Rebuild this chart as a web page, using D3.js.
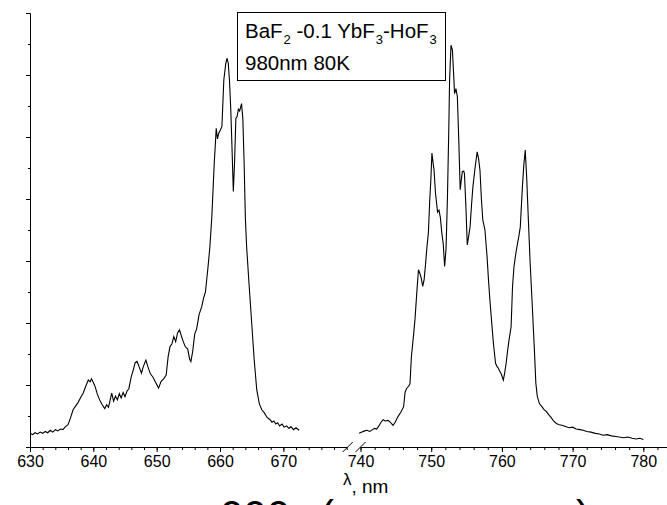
<!DOCTYPE html>
<html>
<head>
<meta charset="utf-8">
<script src="https://cdn.jsdelivr.net/npm/d3@7"></script>
<style>
  body { margin: 0; background: #fff; }
  svg { display: block; font-family: "Liberation Sans", Arial, sans-serif; }
</style>
</head>
<body>
<div id="chart"></div>
<script>
// Spectrum, left part (630-680 nm)
const leftNm = [630.0,630.4,630.8,631.2,631.6,632.0,632.4,632.8,633.2,633.6,634.0,634.4,634.8,635.2,635.6,636.0,636.4,636.8,637.2,637.6,638.0,638.4,638.8,639.2,639.5,639.7,640.0,640.3,640.6,641.0,641.4,641.8,642.1,642.4,642.7,642.9,643.2,643.5,643.8,644.1,644.4,644.7,645.0,645.3,645.6,646.0,646.3,646.6,646.9,647.2,647.6,647.9,648.3,648.6,649.0,649.4,649.8,650.3,650.7,651.1,651.5,651.8,652.1,652.4,652.7,653.0,653.3,653.6,653.9,654.2,654.5,654.9,655.2,655.4,655.7,656.0,656.3,656.7,657.1,657.4,657.7,658.1,658.4,658.7,658.9,659.1,659.3,659.4,659.6,659.8,660.0,660.3,660.6,660.9,661.1,661.3,661.5,661.7,661.9,662.1,662.3,662.5,662.7,662.9,663.1,663.4,663.6,663.8,664.0,664.2,664.6,665.0,665.4,665.8,666.2,666.6,667.0,667.4,667.9,668.2,668.5,668.8,669.1,669.4,669.8,670.1,670.5,670.9,671.2,671.6,672.0,672.5];
const leftI = [0.22,0.20,0.23,0.21,0.24,0.22,0.25,0.23,0.27,0.24,0.28,0.26,0.29,0.28,0.33,0.36,0.47,0.60,0.66,0.72,0.80,0.87,0.98,1.08,1.05,1.10,1.04,0.97,0.86,0.76,0.68,0.62,0.68,0.64,0.78,0.87,0.74,0.82,0.76,0.86,0.79,0.88,0.81,0.90,0.94,1.14,1.24,1.36,1.38,1.30,1.19,1.30,1.40,1.30,1.18,1.13,1.05,0.95,1.06,1.10,1.16,1.45,1.62,1.66,1.78,1.70,1.84,1.89,1.79,1.70,1.62,1.58,1.42,1.38,1.55,1.82,1.90,2.14,2.26,2.40,2.50,2.90,3.23,3.70,4.15,4.60,4.95,5.14,4.97,5.06,5.10,5.17,5.92,6.18,6.27,6.19,5.90,5.44,4.80,4.12,4.60,5.30,5.33,5.45,5.42,5.54,5.30,4.60,3.70,3.23,2.60,2.00,1.40,0.92,0.70,0.60,0.55,0.48,0.44,0.40,0.42,0.37,0.39,0.34,0.37,0.32,0.34,0.30,0.33,0.28,0.31,0.27];

// Spectrum, right part (740-784 nm)
const rightNm = [739.8,740.2,740.6,740.9,741.3,741.7,742.0,742.3,742.6,742.9,743.2,743.5,743.9,744.2,744.6,744.9,745.3,745.7,746.1,746.3,746.5,746.8,747.0,747.2,747.5,747.7,748.0,748.2,748.4,748.6,748.8,749.0,749.2,749.4,749.6,749.8,749.95,750.1,750.3,750.4,750.6,750.9,751.1,751.3,751.5,751.7,751.9,752.1,752.3,752.5,752.6,752.8,753.0,753.2,753.3,753.5,753.7,753.9,754.1,754.25,754.4,754.6,754.7,754.9,755.1,755.3,755.5,755.7,755.9,756.2,756.5,756.7,756.9,757.1,757.3,757.6,757.9,758.1,758.3,758.6,758.8,759.1,759.3,759.5,759.7,759.9,760.2,760.4,760.6,760.8,761.0,761.3,761.5,761.7,761.9,762.2,762.4,762.6,762.9,763.1,763.3,763.5,763.8,764.0,764.3,764.6,764.8,765.0,765.3,765.6,766.0,766.3,766.7,767.0,767.3,767.7,768.1,768.5,769.0,769.5,770.0,770.5,771.0,771.5,772.0,772.6,773.2,773.8,774.3,774.9,775.5,776.1,776.6,777.2,777.8,778.4,779.0,779.5,780.0];
const rightI = [0.22,0.24,0.26,0.27,0.25,0.28,0.30,0.29,0.34,0.40,0.44,0.42,0.43,0.40,0.35,0.40,0.49,0.56,0.65,0.88,0.94,0.98,1.02,1.46,1.80,2.05,2.55,2.86,2.80,2.72,2.59,2.70,2.95,3.23,3.45,4.00,4.31,4.74,4.55,4.47,4.10,3.79,3.82,3.70,3.45,3.28,2.91,3.20,4.04,5.20,5.92,6.48,6.40,5.95,5.70,5.78,5.65,4.95,4.15,4.30,4.44,4.45,4.41,3.90,3.26,3.40,3.55,3.90,4.20,4.50,4.76,4.65,4.46,4.00,3.66,3.50,3.07,2.70,2.37,1.95,1.67,1.35,1.30,1.27,1.22,1.18,1.08,1.20,1.35,1.55,1.72,1.94,2.58,2.90,3.07,3.28,3.40,3.55,4.20,4.55,4.79,4.36,3.50,2.95,2.27,1.55,1.03,0.82,0.70,0.66,0.60,0.57,0.51,0.47,0.42,0.38,0.36,0.35,0.33,0.31,0.32,0.29,0.28,0.27,0.25,0.24,0.22,0.21,0.19,0.20,0.18,0.17,0.16,0.15,0.16,0.14,0.13,0.14,0.12];

const leftTicks = [630, 640, 650, 660, 670];
const rightTicks = [740, 750, 760, 770, 780];
const legendLines = ["BaF", "980nm 80K"];

const width = 667, height = 505;

let svg = d3.select("#chart")
    .append("svg")
    .attr("width", width)
    .attr("height", height);

// two x scales for the broken axis
let xL = d3.scaleLinear().domain([630, 680]).range([30, 346.7]);
let xR = d3.scaleLinear().domain([740, 784]).range([360.5, 671.6]);
let y = d3.scaleLinear().domain([0, 7]).range([447, 13]);

// x axis, left piece
svg.append("g")
    .attr("transform", "translate(0,447)")
    .call(d3.axisBottom(xL).tickValues(d3.range(630, 681, 2)).tickFormat("").tickSize(3).tickSizeOuter(0));
svg.append("g")
    .attr("class", "lab")
    .attr("transform", "translate(0,447)")
    .call(d3.axisBottom(xL).tickValues(leftTicks).tickSize(5).tickSizeOuter(0).tickPadding(4));

// x axis, right piece
svg.append("g")
    .attr("transform", "translate(0,447)")
    .call(d3.axisBottom(xR).tickValues(d3.range(740, 785, 2)).tickFormat("").tickSize(3).tickSizeOuter(0));
svg.append("g")
    .attr("class", "lab")
    .attr("transform", "translate(0,447)")
    .call(d3.axisBottom(xR).tickValues(rightTicks).tickSize(5).tickSizeOuter(0).tickPadding(4));

// y axis, no labels
svg.append("g")
    .attr("transform", "translate(30,0)")
    .call(d3.axisLeft(y).tickValues(d3.range(0.5, 7, 1)).tickFormat("").tickSize(2).tickSizeOuter(0));
svg.append("g")
    .attr("transform", "translate(30,0)")
    .call(d3.axisLeft(y).tickValues(d3.range(0, 8, 1)).tickFormat("").tickSize(4).tickSizeOuter(0));

svg.selectAll(".domain, .tick line").attr("stroke", "#000").attr("stroke-width", 1);
svg.selectAll(".lab text")
    .attr("font-size", 16)
    .attr("fill", "#000")
    .attr("font-family", "Liberation Sans, Arial, sans-serif");

// break marks
[xL(680) + 1, xR(740)].forEach(function(cx) {
    svg.append("line")
        .attr("x1", cx - 5).attr("y1", 452)
        .attr("x2", cx + 5).attr("y2", 442)
        .attr("stroke", "#000").attr("stroke-width", 1);
});

// spectrum
let lineL = d3.line().x(function(d, i) { return xL(leftNm[i]); }).y(function(d) { return y(d); });
let lineR = d3.line().x(function(d, i) { return xR(rightNm[i]); }).y(function(d) { return y(d); });

svg.append("path")
    .datum(leftI)
    .attr("d", lineL)
    .attr("fill", "none")
    .attr("stroke", "#000")
    .attr("stroke-width", 1.1);

svg.append("path")
    .datum(rightI)
    .attr("d", lineR)
    .attr("fill", "none")
    .attr("stroke", "#000")
    .attr("stroke-width", 1.1);

// legend box
svg.append("rect")
    .attr("x", 237.5).attr("y", 12.5)
    .attr("width", 208).attr("height", 68)
    .attr("fill", "#fff")
    .attr("stroke", "#000");

let t1 = svg.append("text")
    .attr("x", 245).attr("y", 38)
    .attr("font-size", 20.5);
t1.append("tspan").text(legendLines[0]);
t1.append("tspan").attr("font-size", 13).attr("dx", 1).attr("dy", 6).text("2");
t1.append("tspan").attr("dy", -6).text(" -0.1 YbF");
t1.append("tspan").attr("font-size", 13).attr("dx", 1).attr("dy", 6).text("3");
t1.append("tspan").attr("dy", -6).text("-HoF");
t1.append("tspan").attr("font-size", 13).attr("dx", 1).attr("dy", 6).text("3");

svg.append("text")
    .attr("x", 245).attr("y", 70)
    .attr("font-size", 20.5)
    .text(legendLines[1]);

// axis title
let xt = svg.append("text")
    .attr("x", 343).attr("y", 493)
    .attr("font-size", 19);
xt.append("tspan").attr("font-size", 17).attr("dy", -8).text("λ");
xt.append("tspan").attr("dy", 8).text(", nm");

// large label clipped at the bottom edge
svg.append("text").attr("x", 220).attr("y", 530).attr("font-size", 42).text("000");
svg.append("text").attr("x", 320).attr("y", 530).attr("font-size", 42).text("(");
svg.append("text").attr("x", 576).attr("y", 530).attr("font-size", 42).text(")");
</script>
</body>
</html>
